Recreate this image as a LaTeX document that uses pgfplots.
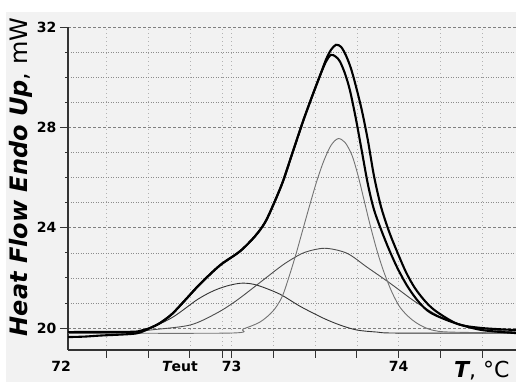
\documentclass[border=0pt]{standalone}
\usepackage{fontspec}
\setmainfont{DejaVu Sans}
\usepackage{pgfplots}
\pgfplotsset{compat=1.18}
\definecolor{bgpanel}{HTML}{F2F2F2}

\begin{document}
\begin{tikzpicture}[x=1pt,y=1pt]
\useasboundingbox (-68,-32) rectangle (448,350);
\fill[white] (-68,-32) rectangle (448,350);
\fill[bgpanel] (-62,-32) rectangle (448,338);
\begin{axis}[
  at={(0,0)}, anchor=south west, scale only axis,
  width=448pt, height=323pt,
  xmin=72.02, xmax=74.703, ymin=19.125, ymax=32,
  axis lines*=left,
  axis line style={black!80, line width=1.1pt},
  xtick={72.25,72.5,72.75,72.942,73,73.25,73.5,73.75,74,74.25,74.5},
  xticklabels={,,,,73,,,,74,,},
  ytick={20,24,28,32},
  minor ytick={21,22,23,25,26,27,29,30,31},
  tick align=outside, major tick length=8pt, minor tick length=3pt,
  tick style={black!80, line width=0.8pt},
  ticklabel style={font=\fontsize{14}{16}\selectfont\bfseries},
  /pgf/number format/assume math mode=true,
  grid=both,
  major grid style={black!50, dash pattern=on 2.5pt off 2.5pt, line width=0.5pt},
  minor grid style={black!45, dash pattern=on 1pt off 1.5pt, line width=0.5pt},
  x grid style={black!30, dash pattern=on 1pt off 3pt, line width=0.5pt},
]
% component A (left, low)
\addplot[black!80, line width=0.9pt, smooth] coordinates {
(72.02,19.80) (72.391,19.82) (72.511,20.00) (72.649,20.44) (72.798,21.15)
(72.900,21.51) (72.990,21.71) (73.068,21.79) (73.152,21.71) (73.289,21.35)
(73.409,20.87) (73.547,20.40) (73.649,20.12) (73.751,19.92) (73.870,19.84)
(73.990,19.80) (74.703,19.80)};
% component B (broad)
\addplot[black!70, line width=0.9pt, smooth] coordinates {
(72.02,19.80) (72.391,19.82) (72.511,19.92) (72.751,20.12) (72.912,20.60)
(73.032,21.11) (73.188,21.91) (73.289,22.43) (73.349,22.70) (73.439,23.02)
(73.559,23.18) (73.691,22.98) (73.810,22.43) (73.948,21.79) (74.086,21.11)
(74.188,20.68) (74.277,20.36) (74.427,20.04) (74.703,19.84)};
% component C (narrow, tall)
\addplot[black!55, line width=0.9pt, smooth] coordinates {
(72.02,19.80) (72.990,19.80) (73.068,19.96) (73.170,20.24) (73.248,20.68)
(73.301,21.23) (73.343,22.03) (73.385,22.94) (73.427,23.94) (73.469,24.93)
(73.511,25.88) (73.553,26.68) (73.595,27.28) (73.637,27.55) (73.679,27.40)
(73.721,26.88) (73.757,26.08) (73.792,25.13) (73.828,24.14) (73.870,23.10)
(73.912,22.23) (73.960,21.43) (74.008,20.83) (74.068,20.40) (74.128,20.12)
(74.200,19.92) (74.307,19.84) (74.703,19.80)};
% thick curve (fit, lower peak)
\addplot[black, line width=2.1pt, smooth] coordinates {
(72.02,19.84) (72.391,19.85) (72.451,19.89) (72.511,20.00) (72.571,20.20)
(72.643,20.56) (72.721,21.11) (72.810,21.75) (72.930,22.50) (73.050,23.06)
(73.140,23.66) (73.200,24.21) (73.248,24.89) (73.307,25.84) (73.367,27.04)
(73.427,28.23) (73.481,29.22) (73.529,30.06) (73.565,30.62) (73.595,30.89)
(73.625,30.81) (73.649,30.62) (73.679,30.14) (73.709,29.46) (73.745,28.31)
(73.780,27.04) (73.816,25.73) (73.852,24.73) (73.894,23.94) (73.942,23.14)
(73.996,22.35) (74.056,21.63) (74.122,21.03) (74.194,20.60) (74.337,20.20)
(74.499,19.92) (74.703,19.80)};
% thick curve (experimental, higher peak)
\addplot[black, line width=2.1pt, smooth] coordinates {
(72.02,19.64) (72.122,19.66) (72.212,19.70) (72.391,19.76) (72.451,19.82)
(72.511,20.00) (72.571,20.20) (72.643,20.56) (72.721,21.11) (72.810,21.75)
(72.930,22.50) (73.050,23.06) (73.140,23.66) (73.200,24.21) (73.248,24.89)
(73.307,25.84) (73.367,27.04) (73.427,28.23) (73.481,29.22) (73.529,30.06)
(73.565,30.70) (73.595,31.09) (73.625,31.29) (73.655,31.21) (73.685,30.86)
(73.715,30.34) (73.745,29.62) (73.780,28.67) (73.816,27.48) (73.852,26.08)
(73.894,24.85) (73.942,23.86) (73.990,23.06) (74.044,22.23) (74.098,21.59)
(74.164,21.03) (74.230,20.64) (74.355,20.16) (74.499,20.00) (74.703,19.92)};
\end{axis}
\node[anchor=base, font=\fontsize{14}{16}\selectfont\bfseries] at (-7,-22) {72};
\node[anchor=base, font=\fontsize{14}{16}\selectfont\bfseries] at (112,-22) {\itshape T\upshape eut};
\node[anchor=base east, font=\fontsize{22}{26}\selectfont] at (445,-28) {\bfseries\itshape T\mdseries\upshape, °C};
\node[rotate=90, anchor=base, font=\fontsize{24}{28}\selectfont] at (-40,173) {\bfseries\itshape Heat Flow Endo Up\mdseries\upshape, mW};
\end{tikzpicture}
\end{document}
